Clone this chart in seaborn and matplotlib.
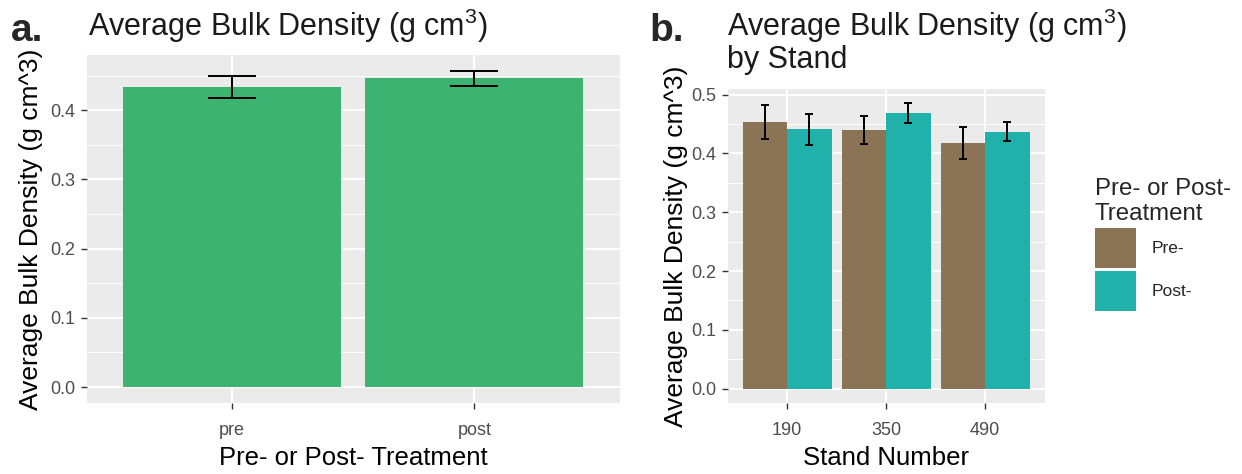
"""
Bulk density bars: overall pre/post and by stand
"""
import pandas as pd
import seaborn as sns
import matplotlib as mpl
import matplotlib.pyplot as plt
from matplotlib.patches import Patch
from matplotlib.ticker import MultipleLocator, FormatStrFormatter
mpl.use('Agg')

# panel a: overall means +/- se
treat_labels = ['pre', 'post']
treat_mean   = [0.433, 0.446]
treat_se     = [0.016, 0.011]

# panel b: by stand
stands          = ['190', '350', '490']
stand_pre_mean  = [0.454, 0.440, 0.417]
stand_pre_se    = [0.029, 0.024, 0.027]
stand_post_mean = [0.441, 0.468, 0.437]
stand_post_se   = [0.026, 0.017, 0.016]
hue_labels      = ['Pre-', 'Post-']

my_pal = {'Pre-': '#8B7355', 'Post-': '#20B2AA'}
bar_green = '#3CB371'

#----------------------------------------------------------
sns.set_theme(style='darkgrid',
              rc={'axes.facecolor': '#EBEBEB', 'grid.color': 'white',
                  'grid.linewidth': 1.4, 'xtick.bottom': True, 'ytick.left': True,
                  'xtick.color': '#333333', 'ytick.color': '#333333',
                  'xtick.major.size': 4.5, 'ytick.major.size': 4.5,
                  'xtick.major.width': 1.0, 'ytick.major.width': 1.0,
                  'xtick.labelcolor': '#4D4D4D', 'ytick.labelcolor': '#4D4D4D',
                  'xtick.labelsize': 13, 'ytick.labelsize': 13})
plt.rcParams['font.family'] = ['Liberation Sans', 'DejaVu Sans']
plt.rcParams['mathtext.fontset'] = 'custom'
plt.rcParams['mathtext.rm'] = 'Liberation Sans'
plt.rcParams['mathtext.it'] = 'Liberation Sans'

df_a = pd.DataFrame({'treatment': treat_labels, 'density': treat_mean, 'se': treat_se})
df_b = pd.DataFrame({'stand': [s for s in stands for _ in hue_labels],
                     'treatment': hue_labels * len(stands),
                     'density': [v for pair in zip(stand_pre_mean, stand_post_mean) for v in pair],
                     'se': [v for pair in zip(stand_pre_se, stand_post_se) for v in pair]})

fig = plt.figure(figsize=(12.42, 4.74), dpi=100)
ax1 = fig.add_axes([0.070, 0.150, 0.429, 0.734])
ax2 = fig.add_axes([0.586, 0.150, 0.255, 0.662])


def style_axis(ax, ymax):
  for sp in ax.spines.values():
    sp.set_visible(False)
  ax.yaxis.set_major_locator(MultipleLocator(0.1))
  ax.yaxis.set_minor_locator(MultipleLocator(0.05))
  ax.yaxis.set_major_formatter(FormatStrFormatter('%.1f'))
  ax.grid(which='major', axis='both', color='white', linewidth=1.4)
  ax.grid(which='minor', axis='y', color='white', linewidth=0.7)
  ax.tick_params(axis='y', which='minor', left=False)
  ax.tick_params(axis='x', pad=9)
  ax.tick_params(axis='y', pad=4)
  ax.set_ylim(-0.05 * ymax, 1.05 * ymax)
  ax.set_axisbelow(True)


# panel a
sns.barplot(data=df_a, x='treatment', y='density', color=bar_green, saturation=1,
            width=0.9, errorbar=None, edgecolor='none', linewidth=0, ax=ax1)
for patch, (_, row) in zip(sorted(ax1.patches, key=lambda p: p.get_x()), df_a.iterrows()):
  ax1.errorbar(patch.get_x() + patch.get_width() / 2, row['density'], yerr=row['se'],
               color='black', capsize=17, elinewidth=1.4, capthick=1.4)
ax1.set_xlim(-0.6, 1.6)
style_axis(ax1, (df_a['density'] + df_a['se']).max())
ax1.set_xlabel('Pre- or Post- Treatment', fontsize=18.5, color='black', labelpad=5)
ax1.set_ylabel('Average Bulk Density (g cm^3)', fontsize=19, color='black', labelpad=5)

# panel b
sns.barplot(data=df_b, x='stand', y='density', hue='treatment', hue_order=hue_labels,
            palette=my_pal, saturation=1, width=0.9, errorbar=None, legend=False,
            edgecolor='none', linewidth=0, ax=ax2)
bars = sorted([p for p in ax2.patches if p.get_height() > 0], key=lambda p: p.get_x())
for patch, (_, row) in zip(bars, df_b.iterrows()):
  ax2.errorbar(patch.get_x() + patch.get_width() / 2, row['density'], yerr=row['se'],
               color='black', capsize=3, elinewidth=1.4, capthick=1.4)
ax2.set_xlim(-0.6, 2.6)
style_axis(ax2, (df_b['density'] + df_b['se']).max())
ax2.set_xlabel('Stand Number', fontsize=18.5, color='black', labelpad=5)
ax2.set_ylabel('Average Bulk Density (g cm^3)', fontsize=19, color='black', labelpad=2)

# titles
fig.text(11 / 1242, 1 - 31 / 474, 'a.', fontsize=28, fontweight='bold', va='center', ha='left')
fig.text(88 / 1242, 1 - 26 / 474, r'Average Bulk Density (g cm$^{3}$)', fontsize=22,
         va='center', ha='left', color='#1a1a1a')
fig.text(649 / 1242, 1 - 31 / 474, 'b.', fontsize=28, fontweight='bold', va='center', ha='left')
fig.text(727 / 1242, 1 - 26 / 474, r'Average Bulk Density (g cm$^{3}$)', fontsize=22,
         va='center', ha='left', color='#1a1a1a')
fig.text(727 / 1242, 1 - 60 / 474, 'by Stand', fontsize=22,
         va='center', ha='left', color='#1a1a1a')

# legend
handles = [Patch(facecolor=my_pal[h], edgecolor='none', label=h) for h in hue_labels]
leg = fig.legend(handles=handles, loc='upper left', bbox_to_anchor=(1086 / 1242, 1 - 169 / 474),
                 title='Pre- or Post-\nTreatment', title_fontsize=17.3, fontsize=12.5,
                 frameon=False, handlelength=2.4, handleheight=3.2, labelspacing=0.15,
                 handletextpad=0.9, borderpad=0, alignment='left')

plt.savefig('out.png', dpi=100)
plt.close(fig=None)
